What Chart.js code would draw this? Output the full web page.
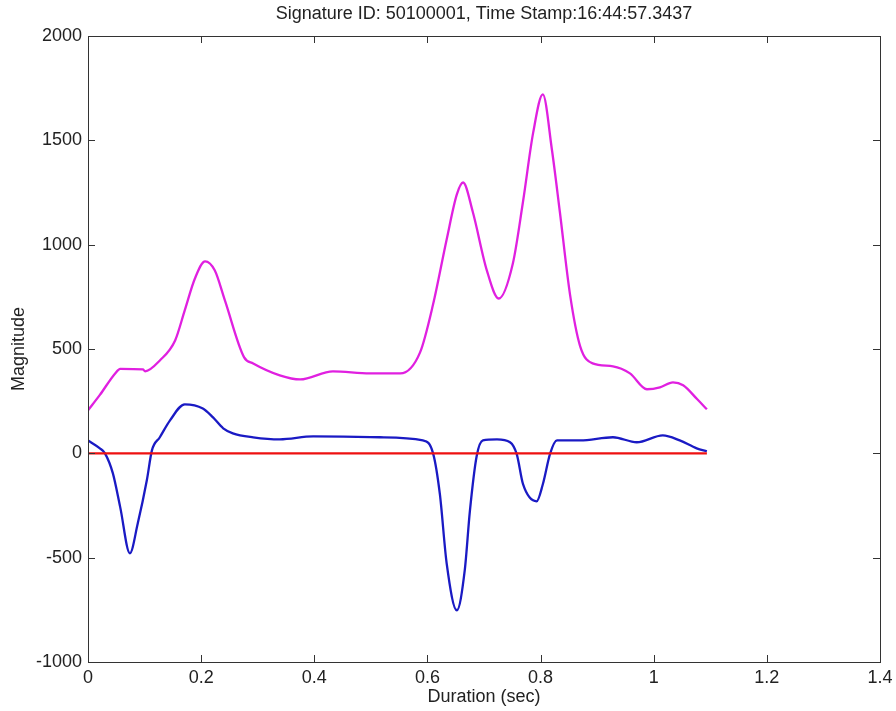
<!DOCTYPE html>
<html>
<head>
<meta charset="utf-8">
<script src="https://cdn.jsdelivr.net/npm/chart.js@4"></script>
<style>
  body { margin: 0; background: #fff; }
  #wrap { width: 896px; height: 711px; }
</style>
</head>
<body>
<div id="wrap"><canvas id="sig" width="896" height="711"></canvas></div>
<script>
// Signature trace: two force channels plus the zero baseline.
const TITLE = "Signature ID: 50100001, Time Stamp:16:44:57.3437";
const X_TICKS = [0, 0.2, 0.4, 0.6, 0.8, 1, 1.2, 1.4];
const Y_TICKS = [-1000, -500, 0, 500, 1000, 1500, 2000];

// upper (magenta) trace
const magTime = [0, 0.021, 0.048, 0.057, 0.097, 0.101, 0.127, 0.154, 0.171, 0.189, 0.207, 0.224,
  0.242, 0.276, 0.292, 0.339, 0.375, 0.433, 0.498, 0.552, 0.587, 0.610, 0.634, 0.652, 0.663,
  0.680, 0.705, 0.726, 0.751, 0.769, 0.787, 0.804, 0.820, 0.834, 0.852, 0.870, 0.892, 0.928,
  0.958, 0.988, 1.011, 1.034, 1.052, 1.077, 1.094];
const magValue = [206, 280, 383, 405, 402, 393, 445, 541, 685, 838, 920, 877,
  733, 460, 431, 374, 354, 393, 383, 383, 484, 714, 1025, 1241, 1298,
  1159, 877, 742, 910, 1207, 1538, 1720, 1456, 1159, 762, 513, 431, 417,
  383, 307, 316, 340, 326, 259, 211];

// lower (blue) trace
const blueTime = [0, 0.021, 0.030, 0.044, 0.057, 0.074, 0.088, 0.104, 0.113, 0.127, 0.145, 0.171,
  0.203, 0.221, 0.239, 0.256, 0.292, 0.339, 0.398, 0.516, 0.592, 0.610, 0.622, 0.634, 0.652,
  0.666, 0.675, 0.687, 0.698, 0.723, 0.746, 0.758, 0.769, 0.793, 0.804, 0.817, 0.829, 0.870,
  0.928, 0.970, 1.016, 1.046, 1.076, 1.094];
const blueValue = [62, 24, 0, -96, -259, -479, -335, -129, 14, 77, 158, 235,
  215, 172, 120, 96, 77, 67, 81, 77, 62, 0, -196, -527, -752,
  -560, -278, -14, 62, 67, 53, -5, -148, -230, -148, 0, 62, 62,
  77, 53, 86, 62, 24, 10];

// zero baseline
const baseTime = [0, 1.094];
const baseValue = [0, 0];

const pts = (xs, ys) => xs.map((x, i) => ({ x, y: ys[i] }));

const FONT = { family: "'Liberation Sans', Arial, sans-serif", size: 18 };
const INK = "#222";

// MATLAB-style box with inward ticks on all four sides
const frame = {
  id: "frame",
  afterDraw(chart) {
    const { ctx, chartArea: a, scales: { x, y } } = chart;
    const len = 7;
    ctx.save();
    ctx.strokeStyle = "#333";
    ctx.lineWidth = 1;
    ctx.strokeRect(Math.round(a.left) + 0.5, Math.round(a.top) + 0.5,
      Math.round(a.width), Math.round(a.height));
    ctx.beginPath();
    X_TICKS.forEach((v) => {
      const px = Math.round(x.getPixelForValue(v)) + 0.5;
      ctx.moveTo(px, a.bottom); ctx.lineTo(px, a.bottom - len);
      ctx.moveTo(px, a.top); ctx.lineTo(px, a.top + len);
    });
    Y_TICKS.forEach((v) => {
      const py = Math.round(y.getPixelForValue(v)) + 0.5;
      ctx.moveTo(a.left, py); ctx.lineTo(a.left + len, py);
      ctx.moveTo(a.right, py); ctx.lineTo(a.right - len, py);
    });
    ctx.stroke();
    ctx.restore();
  },
};

const line = (data, color, order) => ({
  data,
  borderColor: color,
  borderWidth: 2.3,
  pointRadius: 0,
  cubicInterpolationMode: "monotone",
  order,
});

new Chart(document.getElementById("sig"), {
  type: "line",
  data: {
    datasets: [
      line(pts(baseTime, baseValue), "#ee1111", 0),
      line(pts(blueTime, blueValue), "#1a1ac4", 1),
      line(pts(magTime, magValue), "#e020e0", 2),
    ],
  },
  options: {
    responsive: false,
    animation: false,
    layout: { padding: { left: 0, right: 16, top: 0, bottom: 0 } },
    plugins: {
      legend: { display: false },
      tooltip: { enabled: false },
      title: {
        display: true,
        text: TITLE,
        fullSize: false,
        color: INK,
        font: { ...FONT, weight: "normal" },
        padding: { top: 3, bottom: 11.4 },
      },
    },
    scales: {
      x: {
        type: "linear",
        min: 0,
        max: 1.4,
        afterBuildTicks: (s) => { s.ticks = X_TICKS.map((value) => ({ value })); },
        afterFit: (s) => { s.height = 49; s.paddingLeft = 0; s.paddingRight = 0; },
        grid: { display: false, drawTicks: false },
        border: { display: false },
        ticks: { color: INK, font: FONT, padding: 5, maxRotation: 0, callback: (v) => String(+v.toFixed(1)) },
        title: { display: true, text: "Duration (sec)", color: INK, font: FONT, padding: { top: 0, bottom: 3 } },
      },
      y: {
        min: -1000,
        max: 2000,
        afterBuildTicks: (s) => { s.ticks = Y_TICKS.map((value) => ({ value })); },
        afterFit: (s) => { s.width = 88; },
        grid: { display: false, drawTicks: false },
        border: { display: false },
        ticks: { color: INK, font: FONT, padding: 6, callback: (v) => String(v) },
        title: { display: true, text: "Magnitude", color: INK, font: FONT, padding: { top: 8, bottom: 0 } },
      },
    },
  },
  plugins: [frame],
});
</script>
</body>
</html>
